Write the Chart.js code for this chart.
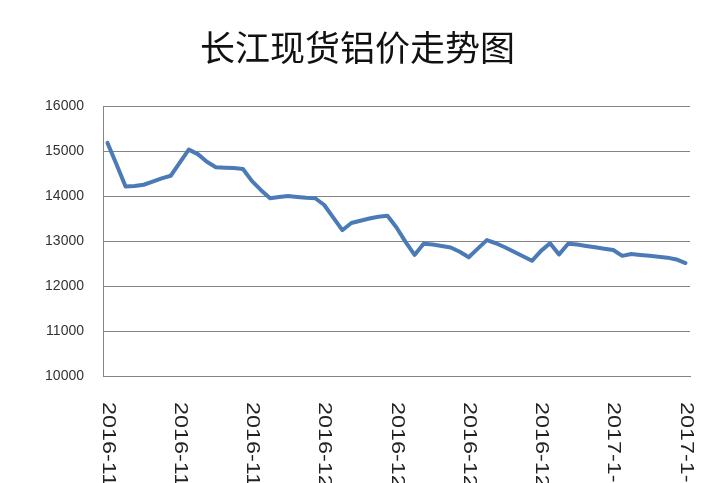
<!DOCTYPE html>
<html><head><meta charset="utf-8">
<script src="https://cdn.jsdelivr.net/npm/chart.js@4.4.1/dist/chart.umd.min.js"></script>
<style>html,body{margin:0;padding:0;background:#fff;overflow:hidden}</style>
</head><body>
<canvas id="c" width="720" height="483"></canvas>
<script>
const titleText = '长江现货铝价走势图';
const dates = [
 '2016-11-7','2016-11-8','2016-11-9','2016-11-10','2016-11-11','2016-11-12','2016-11-13','2016-11-14','2016-11-15','2016-11-16',
 '2016-11-17','2016-11-18','2016-11-19','2016-11-20','2016-11-21','2016-11-22','2016-11-23','2016-11-24','2016-11-25','2016-11-26',
 '2016-11-27','2016-11-28','2016-11-29','2016-11-30','2016-12-1','2016-12-2','2016-12-3','2016-12-4','2016-12-5','2016-12-6',
 '2016-12-7','2016-12-8','2016-12-9','2016-12-10','2016-12-11','2016-12-12','2016-12-13','2016-12-14','2016-12-15','2016-12-16',
 '2016-12-17','2016-12-18','2016-12-19','2016-12-20','2016-12-21','2016-12-22','2016-12-23','2016-12-24','2016-12-25','2016-12-26',
 '2016-12-27','2016-12-28','2016-12-29','2016-12-30','2016-12-31','2017-1-1','2017-1-2','2017-1-3','2017-1-4','2017-1-5',
 '2017-1-6','2017-1-7','2017-1-8','2017-1-9','2017-1-10'
];
const prices = [
 15180, 14700, 14210, 14220, 14250, 14320, 14390, 14450, 14740, 15030,
 14930, 14760, 14640, 14630, 14620, 14600, 14330, 14130, 13950, 13980,
 14000, 13980, 13960, 13950, 13800, 13520, 13240, 13400, 13450, 13500,
 13540, 13560, 13300, 12980, 12690, 12940, 12920, 12890, 12855, 12760,
 12640, 12830, 13020, 12950, 12860, 12760, 12660, 12560, 12780, 12950,
 12700, 12940, 12920, 12890, 12860, 12830, 12800, 12670, 12710, 12690,
 12670, 12650, 12630, 12590, 12510
];
const yTicks = [10000, 11000, 12000, 13000, 14000, 15000, 16000];
const labelEvery = 8;

const xLabelPlugin = {
  id: 'xLabels',
  afterDraw(chart) {
    const ctx = chart.ctx, xs = chart.scales.x, top = chart.chartArea.bottom + 26;
    ctx.save();
    ctx.fillStyle = '#222222';
    ctx.font = '18px "Liberation Sans", Arial, sans-serif';
    ctx.textAlign = 'left';
    ctx.textBaseline = 'middle';
    dates.forEach((d, i) => {
      if (i % labelEvery) return;
      const x = xs.getPixelForValue(i);
      ctx.save();
      ctx.translate(x, top);
      ctx.rotate(Math.PI / 2);
      ctx.scale(1.3, 1);
      ctx.fillText(d, 0, 0);
      ctx.restore();
    });
    ctx.restore();
  }
};

new Chart(document.getElementById('c'), {
  type: 'line',
  data: {
    labels: dates,
    datasets: [{
      data: prices,
      borderColor: '#4A7BB7',
      borderWidth: 4,
      pointRadius: 0,
      tension: 0,
      fill: false,
      borderJoinStyle: 'round',
      borderCapStyle: 'round'
    }]
  },
  options: {
    responsive: false,
    animation: false,
    layout: { padding: { left: 25, right: 30, top: 0, bottom: 0 } },
    plugins: {
      legend: { display: false },
      tooltip: { enabled: false },
      title: {
        display: true,
        text: titleText,
        color: '#111111',
        font: { family: '"Noto Sans CJK SC", sans-serif', size: 35, weight: 'normal', lineHeight: 1.2 },
        padding: { top: 27, bottom: 37 }
      }
    },
    scales: {
      x: {
        type: 'category',
        offset: true,
        grid: { display: false },
        border: { display: true, color: '#858585', width: 1 },
        ticks: { display: false },
        afterFit(s) { s.height = 107; }
      },
      y: {
        min: 10000,
        max: 16000,
        afterBuildTicks(s) { s.ticks = yTicks.map(v => ({ value: v })); },
        grid: { color: '#858585', lineWidth: 1, drawTicks: false },
        border: { display: true, color: '#858585', width: 1 },
        ticks: {
          padding: 19,
          color: '#333333',
          font: { family: '"Liberation Sans", Arial, sans-serif', size: 14 },
          callback: v => String(v)
        },
        afterFit(s) { s.width = 78; }
      }
    }
  },
  plugins: [xLabelPlugin]
});
</script>
</body></html>
